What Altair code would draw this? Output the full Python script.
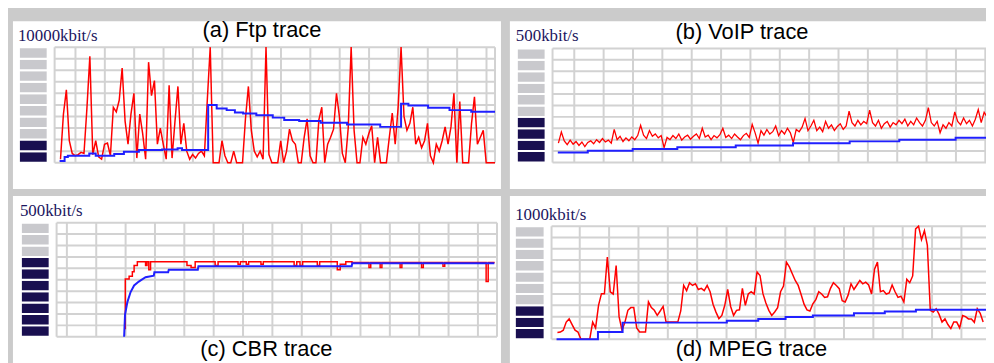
import altair as alt
import pandas as pd

# ---------------- data ----------------
# (a) Ftp trace, full scale 10000 kbit/s, red sampled once per time unit from t=2
ftp_red_t0 = 2
ftp_red = [300, 4200, 6300, 1900, 800, 600, 700, 900, 800, 4700, 9200, 700, 1900, 500, 300,
           1600, 1700, 600, 4800, 4400, 5400, 8200, 3600, 1600, 4200, 6000, 400, 4200, 2500, 300,
           8700, 5800, 7100, 1600, 3000, 1600, 300, 6700, 400, 3600, 6600, 1600, 3400, 1000, 300,
           700, 400, 800, 1000, 600, 5400, 10000, 0, 0, 0, 1900, 600, 0, 0, 1000, 0, 0, 0,
           3800, 6600, 2800, 1000, 500, 1000, 300, 10000, 700, 0, 0, 0,
           1900, 0, 1000, 2900, 1900, 1600, 0, 0, 2200, 3800, 600, 0, 0, 3700, 4800, 0, 1600,
           2200, 2900, 6000, 4000, 800, 0, 3000, 10000, 2800, 0, 0, 2200, 1600, 2500, 3200, 0,
           2200, 0, 0, 0, 2200, 4300, 1600, 4800, 10000, 4000, 2800, 3400, 4800, 1600, 2200,
           1300, 1900, 3400, 600, 0, 1600, 1000, 1900, 3100, 1600, 3100, 6000, 0, 5300, 0, 0,
           0, 3400, 5700, 1600, 2200, 2800, 0, 0, 0, 0]
ftp_blue_t = [1.7, 3.4, 4.5, 11.8, 14.0, 20.3, 23.6, 28.7, 36.6, 41.9, 43.4, 52.3, 55.2, 58.6,
              61.4, 64.2, 68.7, 74.3, 78.2, 83.3, 90.6, 99.6, 110.9, 118.0, 120.5, 127.2, 134.5,
              141.9, 150.0]
ftp_blue_v = [150, 500, 600, 800, 600, 750, 950, 1100, 1150, 1250, 1100, 5000, 4700, 4550,
              4350, 4250, 4100, 3900, 3700, 3600, 3450, 3300, 3100, 5100, 4950, 4750, 4550,
              4400, 4400]

# (b) VoIP trace, full scale 500 kbit/s
voip_red_t0 = 2
voip_red = [85, 134, 95, 78, 98, 80, 92, 75, 90, 70, 88,
            95, 82, 100, 88, 105, 90, 98, 85, 145,
            100, 115, 92, 108, 95, 112, 100, 118,
            163, 120, 105, 140, 115, 125, 108, 118, 65,
            110, 100, 118, 105, 125, 98, 112, 120, 102, 115,
            125, 105, 150, 112, 120, 100, 118, 108, 122, 150,
            110, 120, 105, 125, 112, 100, 118, 128, 110,
            167, 130, 85, 140, 120, 145, 125, 135, 160, 118, 140, 125,
            150, 130, 88, 145, 135, 155, 193, 140,
            160, 185, 140, 155, 135, 180, 150, 165, 140, 158, 170, 145, 160, 225,
            175, 160, 185, 165, 180, 170, 230,
            175, 160, 185, 150, 170, 180, 155, 175, 165, 185,
            170, 190, 160, 180, 165, 195, 175, 160, 185, 240,
            175, 160, 180, 130, 165, 150, 175, 160, 222,
            180, 165, 195, 170, 185, 160, 190, 232, 175, 220, 200]
voip_blue_t = [1.8, 12.0, 27.3, 42.5, 62.4, 81.9, 101.2, 118.1, 137.3, 150.0]
voip_blue_v = [43.5, 52, 59, 66.5, 75, 84, 92.6, 100, 108.7, 108.7]

# (c) CBR trace, full scale 500 kbit/s
cbr_red_t = [23.0, 23.4, 24.7, 25.8, 26.4, 27.5, 30.3, 30.8, 31.4, 32.0, 44.4, 45.8, 47.2, 54.0,
             55.0, 61.8, 62.6, 64.6, 65.4, 69.6, 70.4, 80.9, 81.8, 82.9, 83.8, 88.8, 89.6, 95.6,
             96.6, 98.5, 100.6, 106.4, 107.0, 110.2, 110.8, 117.0, 117.6, 124.3, 124.9, 131.6,
             132.2, 146.3, 147.0, 149.2]
cbr_red_v = [36, 253, 265, 285, 312, 329, 312, 329, 294, 329, 312, 304, 329, 312,
             329, 318, 329, 318, 329, 318, 329, 312, 329, 312, 329, 312, 329, 294,
             318, 329, 326, 304, 326, 304, 326, 304, 326, 304, 326, 309,
             326, 242, 326, 326]
cbr_blue_t = [23.0, 23.3, 24.1, 25.2, 26.4, 28.0, 30.3, 33.1, 33.3, 38.0, 38.2, 48.1, 48.3,
              100.5, 100.7, 149.1]
cbr_blue_v = [0, 96, 152, 196, 225, 242, 261, 268, 283, 283, 294, 294, 309, 309, 322, 322]

# (d) MPEG trace, full scale 1000 kbit/s
mpeg_red_t0 = 2
mpeg_red = [60, 64, 80, 152, 180, 130, 80, 64, 0, 0, 0, 0, 152, 100, 300, 403, 403, 727, 420,
            400, 652, 200, 80, 152, 256, 280, 280, 100, 64, 64, 64, 330, 280, 256, 211, 250,
            290, 152, 152, 152, 152, 152, 250, 476, 430, 500, 476, 491, 440, 450, 430, 476,
            420, 310, 240, 182, 211, 300, 440, 290, 211, 256, 260, 450, 300, 400, 420, 400,
            594, 564, 403, 320, 256, 211, 241, 280, 420, 470, 682, 640, 580, 520, 476, 395,
            310, 260, 250, 314, 350, 420, 400, 370, 375, 450, 500, 476, 447, 340, 330, 390,
            491, 440, 480, 520, 490, 505, 480, 400, 620, 682, 420, 430, 400, 410, 480, 420,
            370, 380, 329, 530, 500, 560, 976, 1000, 880, 960, 830, 256, 240, 270, 220, 152,
            180, 130, 94, 152, 152, 100, 210, 200, 180, 180, 150, 270, 230, 152]
mpeg_blue_t = [1.7, 15.8, 24.2, 59.7, 70.4, 79.7, 89.0, 103.0, 113.5, 124.1, 150.0]
mpeg_blue_v = [0, 64, 147, 164, 179, 196, 211, 229, 246, 261, 261]

# vertical grid lines of each scrolling grid (time units, edges included)
ftp_vgrid = [0, 7.1, 17.1, 27.1, 37.1, 47.1, 57.1, 67.1, 77.1, 87.1, 97.1, 107.1, 117.1,
             127.1, 137.1, 147.1, 150]
voip_vgrid = [0, 7.4, 17.4, 27.4, 37.4, 47.4, 57.4, 67.4, 77.4, 87.4, 97.4, 107.4, 117.4,
              127.4, 137.4, 147.4, 150]
cbr_vgrid = [0, 3.5, 13.5, 23.5, 33.5, 43.5, 53.5, 63.5, 73.5, 83.5, 93.5, 103.5, 113.5,
             123.5, 133.5, 143.5, 150]
mpeg_vgrid = [0, 9.6, 19.6, 29.6, 39.6, 49.6, 59.6, 69.6, 79.6, 89.6, 99.6, 109.6, 119.6,
              129.6, 139.6, 149.6]

labels = ["10000kbit/s", "500kbit/s", "500kbit/s", "1000kbit/s"]
titles = ["(a) Ftp trace", "(b) VoIP trace", "(c) CBR trace", "(d) MPEG trace"]
full_scale = [10000, 500, 500, 1000]
meter_dark = [2, 4, 7, 3]

# ---------------- styles ----------------
RED = "#ff0000"
BLUE = "#2020ff"
GRID = "#d2d2d2"
FRAME = "#cbcbcb"
METER_ON = "#190f50"
METER_OFF = "#c9c9cd"
LABEL_C = "#1b1560"


def panel(width, height, gx0, gy_top, gy_bot, full, vgrid, n_dark, label, lab_xy,
          title, tit_xy, red_t, red_v, red_interp, blue_t, blue_v, blue_interp, meter_x,
          red_w=1.5):
    xs = alt.Scale(domain=[0, 150], range=[gx0, gx0 + 444], nice=False, zero=False)
    ys = alt.Scale(domain=[0, full], range=[gy_bot, gy_top], nice=False, zero=False)

    vg = alt.Chart(pd.DataFrame({"gx": vgrid})).mark_rule(
        color=GRID, strokeWidth=2, clip=True).encode(
        x=alt.X("gx:Q", scale=xs, axis=None),
        y=alt.YDatum(0, scale=ys, axis=None),
        y2=alt.Y2Datum(full))
    hg = alt.Chart(pd.DataFrame({"gy": [full * i / 10 for i in range(11)]})).mark_rule(
        color=GRID, strokeWidth=2, clip=True).encode(
        y=alt.Y("gy:Q", scale=ys, axis=None),
        x=alt.XDatum(0, scale=xs, axis=None),
        x2=alt.X2Datum(150))

    meter_df = pd.DataFrame({
        "lo": [full * i / 10 for i in range(10)],
        "hi": [full * (i + 1) / 10 for i in range(10)],
        "state": ["on" if i < n_dark else "off" for i in range(10)],
    })
    meter = alt.Chart(meter_df).mark_rect(stroke="white", strokeWidth=2).encode(
        y=alt.Y("lo:Q", scale=ys, axis=None),
        y2="hi:Q",
        x=alt.value(meter_x[0]), x2=alt.value(meter_x[1]),
        fill=alt.Fill("state:N", scale=alt.Scale(domain=["on", "off"],
                                                 range=[METER_ON, METER_OFF]), legend=None))

    red = alt.Chart(pd.DataFrame({"t": red_t, "v": red_v})).mark_line(
        color=RED, strokeWidth=red_w, interpolate=red_interp, clip=True).encode(
        x=alt.X("t:Q", scale=xs, axis=None), y=alt.Y("v:Q", scale=ys, axis=None))
    blue = alt.Chart(pd.DataFrame({"t": blue_t, "v": blue_v})).mark_line(
        color=BLUE, strokeWidth=2, interpolate=blue_interp, clip=True).encode(
        x=alt.X("t:Q", scale=xs, axis=None), y=alt.Y("v:Q", scale=ys, axis=None))

    lab = alt.Chart(pd.DataFrame({"s": [label]})).mark_text(
        font="Liberation Serif", fontSize=17, color=LABEL_C, align="left",
        baseline="alphabetic").encode(text="s:N", x=alt.value(lab_xy[0]), y=alt.value(lab_xy[1]))
    tit = alt.Chart(pd.DataFrame({"s": [title]})).mark_text(
        font="Liberation Sans", fontSize=22, color="black", align="center",
        baseline="alphabetic").encode(text="s:N", x=alt.value(tit_xy[0]), y=alt.value(tit_xy[1]))

    return alt.layer(vg, hg, meter, red, blue, lab, tit).properties(width=width, height=height)


def series(t0, vals):
    return [t0 + i for i in range(len(vals))], vals


ta, va = series(ftp_red_t0, ftp_red)
tb, vb = series(voip_red_t0, voip_red)
td, vd = series(mpeg_red_t0, mpeg_red)

pa = panel(492, 169, 42, 26, 142.5, full_scale[0], ftp_vgrid, meter_dark[0], labels[0],
           (5, 20.3), titles[0], (251, 15.3), ta, va, "linear", ftp_blue_t, ftp_blue_v,
           "step-after", (6, 35))
pb = panel(480, 169, 43, 27.3, 142.3, full_scale[1], voip_vgrid, meter_dark[1], labels[1],
           (6, 20.3), titles[1], (234, 17.3), tb, vb, "linear", voip_blue_t, voip_blue_v,
           "step-after", (7, 36), red_w=1.3)
pc = panel(492, 169, 44, 27, 142, full_scale[2], cbr_vgrid, meter_dark[2], labels[2],
           (7, 20.3), titles[2], (255.5, 161), cbr_red_t, cbr_red_v, "step-after",
           cbr_blue_t, cbr_blue_v, "linear", (8, 37))
pd_ = panel(480, 169, 42, 30.5, 144.5, full_scale[3], mpeg_vgrid, meter_dark[3], labels[3],
            (5.3, 24.3), titles[3], (243.5, 161), td, vd, "linear", mpeg_blue_t, mpeg_blue_v,
            "step-after", (5, 35))

row1 = alt.hconcat(pa, pb, spacing=9)
row2 = alt.hconcat(pc, pd_, spacing=9)
chart = alt.vconcat(row1, row2, spacing=7).properties(
    padding={"left": 5, "top": 9, "right": 0, "bottom": 1}
).configure(background=FRAME).configure_view(fill="white", strokeWidth=0)

chart.save("out.html", embed_options={"renderer": "svg", "actions": False})
